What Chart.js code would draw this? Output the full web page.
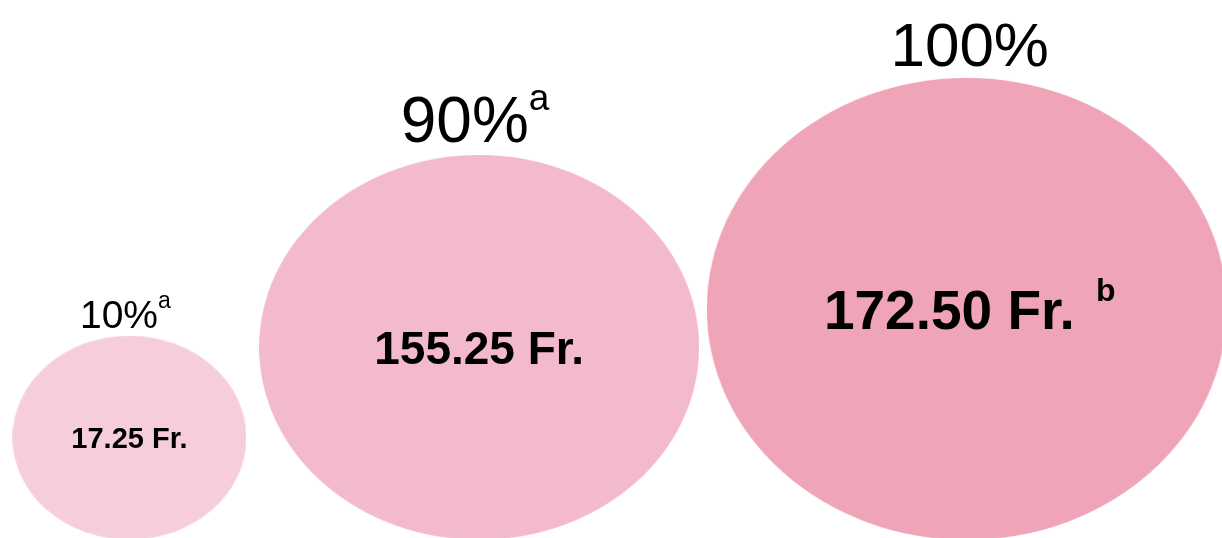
<!DOCTYPE html>
<html>
<head>
<meta charset="utf-8">
<script src="https://cdn.jsdelivr.net/npm/chart.js@4.4.1/dist/chart.umd.min.js"></script>
<style>
  html, body { margin: 0; padding: 0; background: #fff; }
  #wrap { width: 1222px; height: 538px; }
</style>
</head>
<body>
<div id="wrap"><canvas id="shares"></canvas></div>
<script>
'use strict';

const shareLabels = ['10%', '90%', '100%'];
const shareNotes = ['a', 'a', ''];
const prices = [17.25, 155.25, 172.5];
const priceNotes = ['', '', 'b'];

// look of the bubbles (px)
const sizes = [[234, 204], [440, 385], [520, 462]];
const gaps = [12, 13, 8];
const colors = ['#f6cedb', '#f3bacb', '#efa4b8'];
const shareFont = [39, 64, 62];
const priceFont = [29, 46, 55];
const floor = -2;
const FONT = '"Liberation Sans", Arial, sans-serif';

function ellipse(w, h, color) {
  const c = document.createElement('canvas');
  c.width = w;
  c.height = h;
  const ctx = c.getContext('2d');
  ctx.fillStyle = color;
  ctx.beginPath();
  ctx.ellipse(w / 2, h / 2, w / 2, h / 2, 0, 0, Math.PI * 2);
  ctx.fill();
  return c;
}

// bubbles packed left to right, all resting on the same floor.
// r is kept tiny so the bubble controller does not pad the chart area;
// the ellipse image (pointStyle) carries the real size.
let left = 0;
const points = prices.map((p, i) => {
  left += gaps[i];
  const x = left + sizes[i][0] / 2;
  left += sizes[i][0];
  return { x: x, y: floor + sizes[i][1] / 2, r: 0.5 };
});

function drawWithNote(ctx, text, note, cx, y, size, weight, noteGap) {
  ctx.save();
  ctx.fillStyle = '#000';
  ctx.textAlign = 'left';
  ctx.textBaseline = 'alphabetic';
  ctx.font = weight + ' ' + size + 'px ' + FONT;
  const w = ctx.measureText(text).width + noteGap;
  const ns = Math.round(size * 0.58);
  ctx.font = weight + ' ' + ns + 'px ' + FONT;
  const nw = note ? ctx.measureText(note).width : 0;
  const x = cx - (w + nw) / 2;
  ctx.font = weight + ' ' + size + 'px ' + FONT;
  ctx.fillText(text, x, y);
  if (note) {
    ctx.font = weight + ' ' + ns + 'px ' + FONT;
    ctx.fillText(note, x + w, y - size * 0.5);
  }
  ctx.restore();
}

const labelPlugin = {
  id: 'labels',
  afterDatasetsDraw(chart) {
    const ctx = chart.ctx;
    chart.getDatasetMeta(0).data.forEach((pt, i) => {
      const top = pt.y - sizes[i][1] / 2;
      const shift = shareNotes[i] ? -4 : 3;
      drawWithNote(ctx, shareLabels[i], shareNotes[i], pt.x + shift, top - shareFont[i] * 0.2, shareFont[i], 'normal', 0);
      const pf = priceFont[i];
      const txt = prices[i].toFixed(2) + ' Fr.' + (priceNotes[i] ? ' ' : '');
      drawWithNote(ctx, txt, priceNotes[i], pt.x + (priceNotes[i] ? 3 : 0), pt.y + pf * 0.36, pf, 'bold', priceNotes[i] ? 6 : 0);
    });
  }
};

new Chart(document.getElementById('shares'), {
  type: 'bubble',
  data: {
    labels: shareLabels,
    datasets: [{
      data: points,
      pointStyle: sizes.map((s, i) => ellipse(s[0], s[1], colors[i])),
      backgroundColor: colors,
      borderWidth: 0,
      hoverRadius: 0,
      clip: false
    }]
  },
  options: {
    responsive: true,
    maintainAspectRatio: false,
    animation: false,
    layout: { padding: 0 },
    scales: {
      x: { type: 'linear', display: false, min: 0, max: 1222 },
      y: { type: 'linear', display: false, min: 0, max: 538 }
    },
    plugins: {
      legend: { display: false },
      tooltip: { enabled: false }
    }
  },
  plugins: [labelPlugin]
});
</script>
</body>
</html>
